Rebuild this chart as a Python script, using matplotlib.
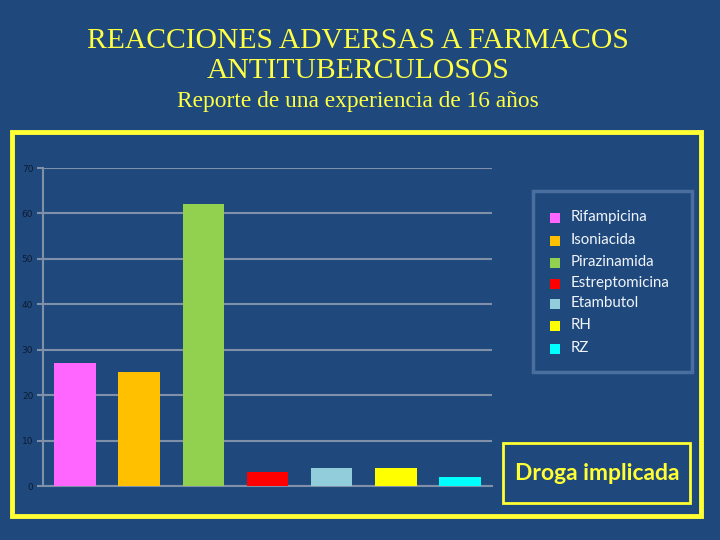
import matplotlib
matplotlib.use("Agg")
import matplotlib.pyplot as plt
from matplotlib.patches import Rectangle

categories = ["Rifampicina", "Isoniacida", "Pirazinamida", "Estreptomicina",
              "Etambutol", "RH", "RZ"]
values = [27, 25, 62, 3, 4, 4, 2]
colors = ["#FF66FF", "#FFC000", "#92D050", "#FF0000", "#92CDDC", "#FFFF00", "#00FFFF"]
yticks = [0, 10, 20, 30, 40, 50, 60, 70]

BG = "#1F497D"
YEL = "#FFFF33"

fig = plt.figure(figsize=(7.2, 5.4), dpi=100, facecolor=BG)

# outer yellow frame
fig.patches.append(Rectangle((12/720, 1-516/540), (701-12)/720, (516-132)/540,
                             transform=fig.transFigure, fill=False,
                             edgecolor=YEL, linewidth=3.5, zorder=0))

# titles
fig.text(0.497, 1-41/540, "REACCIONES ADVERSAS A FARMACOS", ha="center", va="center",
         color="#FFFF44", fontsize=21.3, family="Liberation Serif")
fig.text(0.497, 1-71/540, "ANTITUBERCULOSOS", ha="center", va="center",
         color="#FFFF44", fontsize=21.3, family="Liberation Serif")
fig.text(0.497, 1-101/540, "Reporte de una experiencia de 16 años", ha="center",
         va="center", color="#FFFF44", fontsize=16.8, family="Liberation Serif")

ax = fig.add_axes([43/720, 1-486/540, 449/720, (486-168)/540])
ax.set_facecolor(BG)
x = list(range(len(categories)))
ax.bar(x, values, width=0.65, color=colors, zorder=3)
ax.set_xlim(-0.5, len(categories) - 0.5)
ax.set_ylim(0, 70)
ax.set_yticks(yticks)
ax.set_xticks([])
ax.tick_params(axis="y", colors="#8090A8", labelcolor="#0E1A30", labelsize=6.5,
               length=4, width=1.5, pad=3)
ax.yaxis.grid(True, color="#8090A8", linewidth=1.5, zorder=1)
for s in ["top", "right", "bottom"]:
    ax.spines[s].set_visible(False)
ax.spines["left"].set_color("#8090A8")
ax.spines["left"].set_linewidth(1.5)
ax.axhline(0, color="#8090A8", linewidth=1.5, zorder=2, clip_on=False)

# legend box
fig.patches.append(Rectangle((533/720, 1-372/540), (692-533)/720, (372-191)/540,
                             transform=fig.transFigure, fill=False,
                             edgecolor="#4A6E9E", linewidth=2.5))
leg_y = [217, 240, 262, 283, 303, 325, 348]
for cat, col, yy in zip(categories, colors, leg_y):
    fig.patches.append(Rectangle((550/720, 1-(yy+6)/540), 10/720, 10/540,
                                 transform=fig.transFigure, facecolor=col,
                                 edgecolor="none"))
    fig.text(571/720, 1-yy/540, cat, ha="left", va="center", color="#F0F4FA",
             fontsize=10.8, family="Lato")

# "Droga implicada" box
fig.patches.append(Rectangle((503/720, 1-503/540), (690-503)/720, (503-443)/540,
                             transform=fig.transFigure, fill=False,
                             edgecolor=YEL, linewidth=2))
fig.text(597/720, 1-474/540, "Droga implicada", ha="center", va="center",
         color=YEL, fontsize=16.5, family="Lato", fontweight="bold")

fig.savefig("out.png", dpi=100, facecolor=BG)
